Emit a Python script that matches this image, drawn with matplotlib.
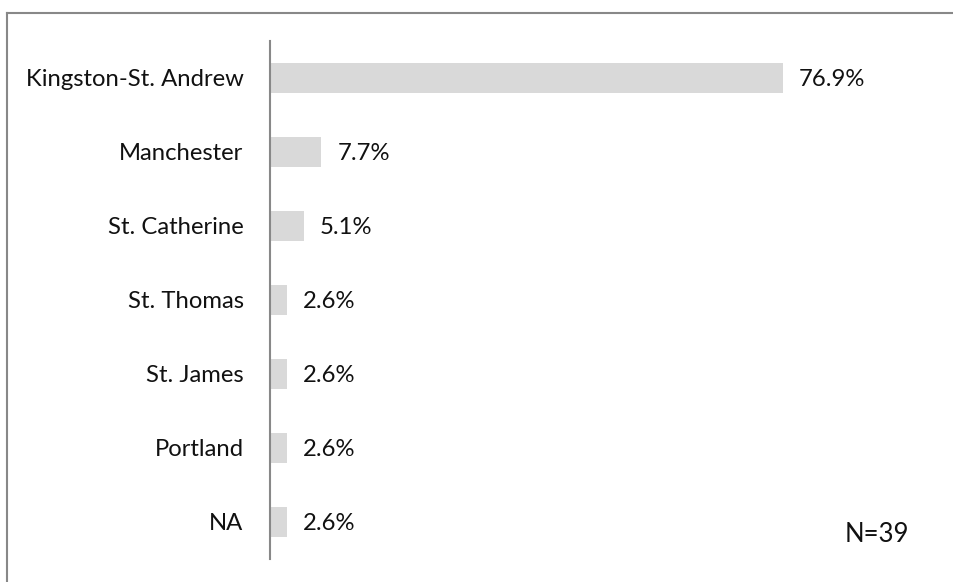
import matplotlib
matplotlib.use("Agg")
import matplotlib.pyplot as plt
from matplotlib.lines import Line2D

regions = ["Kingston-St. Andrew", "Manchester", "St. Catherine", "St. Thomas",
           "St. James", "Portland", "NA"]
shares = [76.9, 7.7, 5.1, 2.6, 2.6, 2.6, 2.6]
sample_note = "N=39"

plt.rcParams["font.family"] = ["Lato", "DejaVu Sans"]

fig = plt.figure(figsize=(9.54, 5.82), dpi=100)
ax = fig.add_axes([0.283, 0.0395, 0.699, 0.8905])

ypos = list(range(len(regions)))
ax.barh(ypos, shares, height=0.4, color="#d9d9d9")
ax.set_ylim(len(regions) - 0.5, -0.5)
ax.set_xlim(0, 100)

for y, v in zip(ypos, shares):
    ax.annotate(f"{v}%", (v, y), xytext=(11.5, -1), textcoords="offset points",
                ha="left", va="center", fontsize=17.2, color="#111111")

ax.set_yticks(ypos)
ax.set_yticklabels(regions, fontsize=17.2, color="#111111")
ax.tick_params(axis="y", length=0, pad=19)
ax.set_xticks([])
for side in ["top", "right", "bottom"]:
    ax.spines[side].set_visible(False)
ax.spines["left"].set_color("#888888")
ax.spines["left"].set_linewidth(1.5)

fig.text(845 / 954, 1 - 534 / 582, sample_note, fontsize=18.5, color="#111111",
         ha="left", va="center")

# outer frame of the chart area
x0 = 7.5 / 954
y0 = 1 - 12.5 / 582
fig.add_artist(Line2D([x0, x0], [-0.01, y0], color="#888888", lw=1.5,
                      transform=fig.transFigure))
fig.add_artist(Line2D([x0, 1.01], [y0, y0], color="#888888", lw=1.5,
                      transform=fig.transFigure))

fig.savefig("out.png", dpi=100)
